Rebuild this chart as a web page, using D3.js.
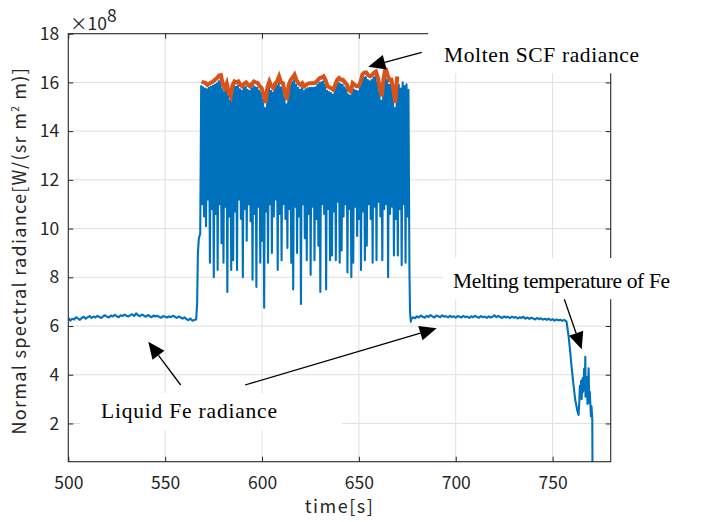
<!DOCTYPE html>
<html>
<head>
<meta charset="utf-8">
<script src="https://cdn.jsdelivr.net/npm/d3@7"></script>
<style>
  body { margin: 0; background: #fff; }
</style>
</head>
<body>
<div id="chart"></div>
<script>

// radiance values are in units of 1e8 W/(sr m^2 m), one sample per second unless noted
var xTicks = [500, 550, 600, 650, 700, 750]
var yTicks = [2, 4, 6, 8, 10, 12, 14, 16, 18]

// liquid Fe before the SCF melts (500..566 s)
var preStart = 500
var preValues = [6.33,6.22,6.30,6.27,6.36,6.31,6.25,6.34,6.38,6.30,
  6.36,6.41,6.33,6.39,6.35,6.42,6.37,6.33,6.40,6.44,
  6.38,6.35,6.43,6.39,6.46,6.40,6.36,6.44,6.41,6.47,
  6.42,6.39,6.45,6.48,6.41,6.52,6.44,6.40,6.47,6.43,
  6.38,6.45,6.41,6.36,6.43,6.39,6.42,6.37,6.34,6.41,
  6.38,6.35,6.40,6.36,6.42,6.38,6.33,6.39,6.35,6.30,
  6.36,6.28,6.24,6.31,6.22,6.25,6.27]

var riseTimes = [566.5, 566.9, 567.4, 568.1]
var riseValues = [6.9, 9.0, 9.6, 9.8]

// molten SCF: fluctuating signal, peak then dip in each second
var bandStart = 568.6
var bandTop = [15.85,15.80,15.75,15.72,15.78,15.82,15.86,15.90,15.95,16.05,
  16.08,15.72,15.60,15.78,15.45,15.25,15.70,15.85,15.82,15.86,
  15.72,15.66,15.78,15.82,15.70,15.65,15.76,15.86,15.80,15.78,
  15.66,15.58,15.30,14.95,15.60,15.85,15.66,15.58,15.76,15.86,
  16.05,15.80,15.78,15.40,15.10,15.70,15.92,16.00,16.10,15.90,
  15.78,15.70,15.78,15.66,15.72,15.76,15.78,15.78,15.78,15.80,
  15.90,15.98,16.00,16.05,15.90,15.66,15.60,15.56,15.50,15.70,
  15.90,15.98,15.92,15.90,15.80,15.72,15.50,15.45,15.78,15.70,
  15.66,15.64,15.80,16.10,16.20,16.22,16.10,16.05,16.10,16.20,
  16.25,16.00,15.60,15.25,16.00,16.35,16.10,15.90,15.92,15.50,
  14.95,16.05,15.90,15.75,16.00,15.85,15.92,15.70]
var bandLow = [11.0,10.5,10.1,11.2,8.6,10.8,8.0,10.6,8.3,11.0,
  9.4,8.6,10.9,7.4,10.5,8.3,8.7,10.7,8.3,11.2,
  10.4,8.0,10.8,9.5,11.0,10.3,7.9,10.6,7.6,10.9,
  8.6,9.5,6.75,10.7,8.6,11.0,9.0,10.5,11.2,8.3,
  10.6,8.7,11.0,10.4,9.2,10.8,8.6,7.5,10.9,9.0,
  10.5,6.9,11.0,9.6,8.7,10.6,8.1,10.9,8.7,10.4,
  9.3,7.4,11.0,10.6,7.5,10.8,8.7,8.9,10.7,8.7,
  11.1,8.6,9.1,10.5,11.0,8.2,10.8,8.0,8.6,10.9,
  9.7,10.4,8.3,10.7,8.7,9.3,11.0,10.4,8.6,10.9,
  8.7,11.1,10.5,8.7,10.8,11.0,8.0,10.6,10.9,8.9,
  10.4,8.9,10.8,8.5,11.0,8.6,10.5,8.3]

var fallTimes = [676.4, 676.8]
var fallValues = [6.6, 6.18]

// liquid Fe again (677..756 s)
var postStart = 677
var postValues = [6.28,6.36,6.32,6.40,6.35,6.43,6.38,6.34,6.42,6.37,
  6.45,6.39,6.35,6.43,6.40,6.36,6.44,6.38,6.41,6.35,
  6.42,6.37,6.40,6.34,6.41,6.38,6.35,6.42,6.36,6.39,
  6.33,6.40,6.36,6.42,6.37,6.34,6.41,6.36,6.39,6.33,
  6.40,6.35,6.38,6.44,6.36,6.42,6.37,6.33,6.40,6.35,
  6.38,6.32,6.39,6.34,6.37,6.31,6.36,6.33,6.38,6.30,
  6.35,6.29,6.34,6.31,6.27,6.33,6.28,6.32,6.26,6.30,
  6.25,6.31,6.24,6.28,6.22,6.27,6.23,6.26,6.21,6.25]

// solidification / cooling at the end
var descTimes = [757.2,758.3,759.0,759.8,760.7,761.7,762.9,763.4,763.8,764.1,
  764.4,764.7,765.0,765.3,765.5,765.8,766.0,766.3,766.6,766.9,
  767.0,767.3,767.5,767.8,768.0,768.3,768.6,768.9,769.2,769.4,
  769.8,770.1,770.5,770.6]
var descValues = [6.18,5.56,5.02,4.33,3.65,2.96,2.48,2.35,2.9,3.55,
  3.2,3.75,3.0,3.6,3.85,3.3,3.5,4.25,3.4,4.74,
  3.1,3.7,3.4,3.9,2.8,3.5,4.26,2.85,3.3,2.95,
  2.3,2.7,2.14,0.2]

// upper envelope: molten SCF radiance (568.8..669.8 s)
var scfStart = 568.8
var scfValues = [16.04,16.00,15.98,15.90,15.95,16.00,16.04,16.12,16.18,16.28,
  16.30,15.90,15.77,15.97,15.60,15.43,15.90,16.04,16.00,16.04,
  15.90,15.84,15.95,16.00,15.90,15.84,15.95,16.04,16.00,15.97,
  15.85,15.77,15.50,15.16,15.80,16.04,15.85,15.77,15.95,16.05,
  16.25,16.00,15.97,15.60,15.29,15.90,16.11,16.20,16.32,16.10,
  15.97,15.90,15.97,15.84,15.90,15.95,15.97,15.97,15.97,16.00,
  16.10,16.18,16.20,16.25,16.10,15.84,15.80,15.75,15.70,15.90,
  16.10,16.18,16.11,16.11,16.00,15.91,15.70,15.63,15.97,15.90,
  15.84,15.84,16.00,16.32,16.40,16.41,16.30,16.25,16.30,16.40,
  16.45,16.20,15.80,15.43,16.20,16.59,16.30,16.10,16.11,15.70,
  15.16,16.25]

// build the blue series
var blue = []
preValues.forEach(function(v, i) { blue.push([preStart + i, v]) })
riseTimes.forEach(function(t, i) { blue.push([t, riseValues[i]]) })
bandTop.forEach(function(v, i) {
  blue.push([bandStart + i, v])
  blue.push([bandStart + i + 0.5, bandLow[i]])
})
fallTimes.forEach(function(t, i) { blue.push([t, fallValues[i]]) })
postValues.forEach(function(v, i) { blue.push([postStart + i, v]) })
descTimes.forEach(function(t, i) { blue.push([t, descValues[i]]) })

var orange = scfValues.map(function(v, i) { return [scfStart + i, v] })


var width = 702,
    height = 522
var margin = {left: 68.3, top: 33.7, right: 702 - 610.7, bottom: 522 - 461.7}
var x0 = margin.left, x1 = width - margin.right
var y0 = height - margin.bottom, y1 = margin.top

var x = d3.scaleLinear().domain([500, 780]).range([x0, x1])
var y = d3.scaleLinear().domain([0.43, 18]).range([y0, y1])

var axisColor = "#262626"
var tickFont = "'Noto Sans CJK JP', 'Noto Sans', sans-serif"
var noteFont = "'Liberation Serif', serif"

var svg = d3.select("#chart")
  .append("svg")
    .attr("width", width)
    .attr("height", height)
    .style("background", "#fff")

svg.append("defs").append("clipPath").attr("id", "plotclip")
  .append("rect")
    .attr("x", x0).attr("y", y1)
    .attr("width", x1 - x0).attr("height", y0 - y1)

// grid
var grid = svg.append("g").attr("stroke", "#e0e0e0").attr("stroke-width", 1)
grid.selectAll("vline").data(xTicks.slice(1)).enter().append("line")
  .attr("x1", function(d) { return x(d) }).attr("x2", function(d) { return x(d) })
  .attr("y1", y0).attr("y2", y1)
grid.selectAll("hline").data(yTicks.slice(0, -1)).enter().append("line")
  .attr("y1", function(d) { return y(d) }).attr("y2", function(d) { return y(d) })
  .attr("x1", x0).attr("x2", x1)

// data
var line = d3.line()
  .x(function(d) { return x(d[0]) })
  .y(function(d) { return y(d[1]) })

var plot = svg.append("g").attr("clip-path", "url(#plotclip)")
plot.append("path")
  .datum(blue)
  .attr("d", line)
  .attr("fill", "none")
  .attr("stroke", "#0072BD")
  .attr("stroke-width", 2.1)
  .attr("stroke-linejoin", "round")

plot.append("path")
  .datum(orange)
  .attr("d", line)
  .attr("fill", "none")
  .attr("stroke", "#D95319")
  .attr("stroke-width", 4)
  .attr("stroke-linejoin", "miter")

// axes, ticks point inward on all four sides
function styleAxis(g) {
  g.select(".domain").remove()
  g.attr("font-family", tickFont).attr("font-size", 17.5).attr("color", axisColor)
}

svg.append("g")
  .attr("transform", "translate(0," + y0 + ")")
  .call(d3.axisBottom(x).tickValues(xTicks).tickSizeInner(-5).tickSizeOuter(0).tickPadding(15))
  .call(styleAxis)

svg.append("g")
  .attr("transform", "translate(0," + y1 + ")")
  .call(d3.axisTop(x).tickValues(xTicks).tickSizeInner(-5).tickSizeOuter(0).tickFormat(""))
  .call(styleAxis)

svg.append("g")
  .attr("transform", "translate(" + x0 + ",0)")
  .call(d3.axisLeft(y).tickValues(yTicks).tickSizeInner(-5).tickSizeOuter(0).tickPadding(9))
  .call(styleAxis)

svg.append("g")
  .attr("transform", "translate(" + x1 + ",0)")
  .call(d3.axisRight(y).tickValues(yTicks).tickSizeInner(-5).tickSizeOuter(0).tickFormat(""))
  .call(styleAxis)

svg.append("rect")
  .attr("x", x0).attr("y", y1)
  .attr("width", x1 - x0).attr("height", y0 - y1)
  .attr("fill", "none")
  .attr("stroke", axisColor)
  .attr("stroke-width", 1.1)

// exponent label
var expo = svg.append("text")
  .attr("x", 70).attr("y", 30)
  .attr("font-family", tickFont).attr("font-size", 17.5).attr("fill", axisColor)
expo.append("tspan").text("×10")
expo.append("tspan").attr("dy", -8).text("8")

// axis titles
svg.append("text")
  .attr("x", (x0 + x1) / 2).attr("y", 513)
  .attr("text-anchor", "middle")
  .attr("font-family", tickFont).attr("font-size", 18).attr("fill", axisColor)
  .attr("letter-spacing", 1.5)
  .text("time[s]")

var ylab = svg.append("text")
  .attr("transform", "translate(26," + ((y0 + y1) / 2 + 3) + ") rotate(-90)")
  .attr("text-anchor", "middle")
  .attr("font-family", tickFont).attr("font-size", 18).attr("fill", axisColor)
  .attr("letter-spacing", 1.3)
ylab.append("tspan").text("Normal spectral radiance[W/(sr m")
ylab.append("tspan").attr("font-size", 10).attr("dy", -7).text("2")
ylab.append("tspan").attr("dy", 7).text(" m)]")

// annotations (text boxes hide the grid behind them)
var notes = [
  {text: "Molten SCF radiance", tx: 444, ty: 62, len: 195, box: [428, 24, 232, 49.3]},
  {text: "Melting temperature of Fe", tx: 453, ty: 288, len: 217, box: [443, 258, 237, 41.3]},
  {text: "Liquid Fe radiance", tx: 101, ty: 418, len: 176, box: [80, 393, 262, 37]}
]
var arrows = [
  [421.7, 52.3, 368.3, 66.7],
  [564.3, 299.3, 581.7, 349.3],
  [180.7, 385, 148.3, 341.7],
  [245, 385, 436.7, 328.3]
]

svg.selectAll("notebox").data(notes).enter().append("rect")
  .attr("x", function(d) { return d.box[0] })
  .attr("y", function(d) { return d.box[1] })
  .attr("width", function(d) { return d.box[2] })
  .attr("height", function(d) { return d.box[3] })
  .attr("fill", "#fff")

svg.selectAll("notetext").data(notes).enter().append("text")
  .attr("x", function(d) { return d.tx })
  .attr("y", function(d) { return d.ty })
  .attr("textLength", function(d) { return d.len })
  .attr("lengthAdjust", "spacing")
  .attr("font-family", noteFont).attr("font-size", 21.5).attr("fill", "#000")
  .text(function(d) { return d.text })

var headLen = 17, headHalf = 7.5
arrows.forEach(function(a) {
  var ang = Math.atan2(a[3] - a[1], a[2] - a[0])
  var bx = a[2] - headLen * Math.cos(ang), by = a[3] - headLen * Math.sin(ang)
  svg.append("line")
    .attr("x1", a[0]).attr("y1", a[1]).attr("x2", bx).attr("y2", by)
    .attr("stroke", "#000").attr("stroke-width", 1.3)
  var px = -Math.sin(ang) * headHalf, py = Math.cos(ang) * headHalf
  svg.append("path")
    .attr("d", "M" + a[2] + "," + a[3] + "L" + (bx + px) + "," + (by + py) + "L" + (bx - px) + "," + (by - py) + "Z")
    .attr("fill", "#000")
})

</script>
</body>
</html>
